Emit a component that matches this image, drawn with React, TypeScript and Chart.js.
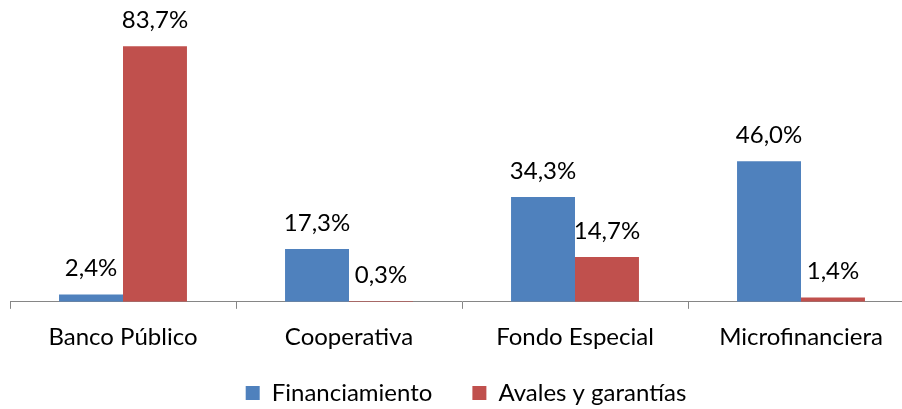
import React, { useEffect, useRef } from "react";
import { Chart, registerables } from "chart.js";

Chart.register(...registerables);

const categories = ["Banco Público", "Cooperativa", "Fondo Especial", "Microfinanciera"];
const financiamiento = [2.4, 17.3, 34.3, 46.0];
const avales = [83.7, 0.3, 14.7, 1.4];
const seriesNames = ["Financiamiento", "Avales y garantías"];

const FONT = "Lato, 'Open Sans', sans-serif";

const dataLabelPlugin = {
  id: "dataLabels",
  afterDatasetsDraw(chart: any) {
    const ctx = chart.ctx;
    ctx.save();
    ctx.font = `24px ${FONT}`;
    ctx.fillStyle = "#000";
    ctx.textAlign = "center";
    ctx.textBaseline = "middle";
    chart.data.datasets.forEach((ds: any, i: number) => {
      const meta = chart.getDatasetMeta(i);
      meta.data.forEach((el: any, j: number) => {
        const v = ds.data[j] as number;
        const txt = v.toFixed(1).replace(".", ",") + "%";
        ctx.fillText(txt, el.x, el.y - 26);
      });
    });
    ctx.restore();
  },
};

const legendShiftPlugin = {
  id: "legendShift",
  afterLayout(chart: any) {
    const lg = chart.legend;
    if (lg) {
      lg.top -= 24;
      lg.bottom -= 24;
      lg.left += 4;
      lg.right += 4;
    }
  },
};

export default function App() {
  const ref = useRef<HTMLCanvasElement>(null);
  useEffect(() => {
    if (!ref.current) return;
    const chart = new Chart(ref.current, {
      type: "bar",
      data: {
        labels: categories,
        datasets: [
          { label: seriesNames[0], data: financiamiento, backgroundColor: "#4F81BD" },
          { label: seriesNames[1], data: avales, backgroundColor: "#C0504D" },
        ],
      },
      options: {
        animation: false,
        responsive: false,
        maintainAspectRatio: false,
        layout: { padding: { top: 27, left: 10, right: 26, bottom: 0 } },
        datasets: { bar: { barPercentage: 1, categoryPercentage: 0.566 } },
        scales: {
          x: {
            grid: {
              display: true,
              drawOnChartArea: false,
              drawTicks: true,
              tickLength: 7,
              color: "#868686",
              offset: true,
            },
            border: { display: true, color: "#868686", width: 1 },
            ticks: { color: "#000", font: { family: FONT, size: 24, lineHeight: 0.84 }, padding: 18 },
          },
          y: { display: false, min: 0, max: 90 },
        },
        plugins: {
          legend: {
            position: "bottom",
            labels: {
              color: "#000",
              font: { family: FONT, size: 24 },
              boxWidth: 14,
              boxHeight: 14,
              padding: 40,
            },
          },
          tooltip: { enabled: false },
        },
      },
      plugins: [dataLabelPlugin, legendShiftPlugin],
    });
    return () => chart.destroy();
  }, []);
  return (
    <div style={{ position: "fixed", left: 0, top: 0, width: 902, height: 409, overflow: "hidden", background: "#fff" }}>
      <canvas ref={ref} width={940} height={439} style={{ width: 940, height: 439, display: "block" }} />
    </div>
  );
}
